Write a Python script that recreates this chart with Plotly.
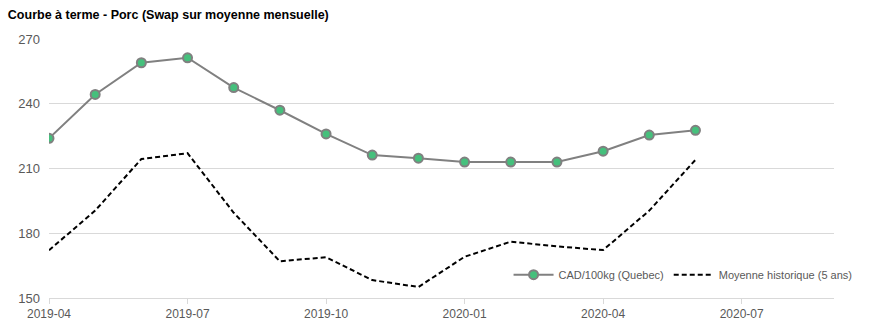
import plotly.graph_objects as go

months = ["2019-04", "2019-05", "2019-06", "2019-07", "2019-08",
          "2019-09", "2019-10", "2019-11", "2019-12", "2020-01",
          "2020-02", "2020-03", "2020-04", "2020-05", "2020-06"]
cad_quebec = [224.0, 244.3, 259.0, 261.3, 247.5, 237.0, 226.0, 216.2, 214.8,
              213.0, 213.0, 213.0, 218.0, 225.5, 227.7]
moyenne_hist = [172.1, 190.5, 214.4, 217.1, 189.5, 167.0, 168.9, 158.3, 155.1,
                169.1, 176.1, 173.9, 172.2, 190.5, 214.0]
x_tick_labels = ["2019-04", "2019-07", "2019-10", "2020-01", "2020-04", "2020-07"]
x_end = "2020-09"
y_ticks = [150, 180, 210, 240, 270]


def month_index(s):
    y, m = s.split("-")
    return (int(y) - 2019) * 12 + int(m) - 4


x_vals = [month_index(m) for m in months]
x_tickvals = [month_index(m) for m in x_tick_labels]

fig = go.Figure()
fig.add_trace(go.Scatter(
    x=x_vals, y=cad_quebec, name="CAD/100kg (Quebec)", mode="lines+markers",
    line=dict(color="#808080", width=2),
    marker=dict(size=9, color="#45c07c", line=dict(color="#808080", width=2)),
))
fig.add_trace(go.Scatter(
    x=x_vals, y=moyenne_hist, name="Moyenne historique (5 ans)", mode="lines",
    line=dict(color="#000000", width=2, dash="5px,3px"),
))

fig.update_layout(
    width=870, height=333,
    margin=dict(l=49, r=33, t=39, b=32),
    paper_bgcolor="white", plot_bgcolor="white",
    font=dict(family="Arial, Liberation Sans, sans-serif", color="#595959"),
    title=dict(text="<b>Courbe à terme - Porc (Swap sur moyenne mensuelle)</b>",
               x=0.009, xanchor="left", y=0.955, yanchor="middle",
               font=dict(size=12.5, color="#000000")),
    showlegend=True,
    legend=dict(orientation="h", x=1.03, xanchor="right", y=0.09, yanchor="middle",
                bgcolor="rgba(0,0,0,0)", font=dict(size=11, color="#595959"),
                itemwidth=40, traceorder="normal"),
    xaxis=dict(
        type="linear", range=[0, month_index(x_end)],
        tickvals=x_tickvals, ticktext=x_tick_labels,
        showgrid=False, showline=True, linecolor="#d9d9d9", linewidth=1,
        ticks="outside", ticklen=5, tickcolor="#d9d9d9",
        tickfont=dict(size=12, color="#595959"), zeroline=False,
    ),
    yaxis=dict(
        range=[150, 270], tickvals=y_ticks,
        showgrid=True, gridcolor="#d9d9d9", gridwidth=1,
        showline=False, zeroline=False, ticks="", ticklabelstandoff=8,
        tickfont=dict(size=13, color="#595959"),
    ),
)

fig.write_html("out.html")
